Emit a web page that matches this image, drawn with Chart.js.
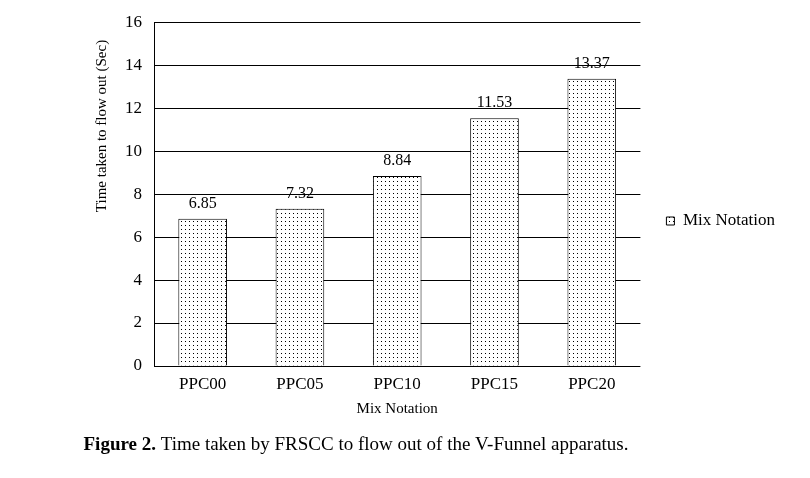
<!DOCTYPE html>
<html>
<head>
<meta charset="utf-8">
<script src="https://cdn.jsdelivr.net/npm/chart.js@4.4.0/dist/chart.umd.min.js"></script>
<style>
  html, body { margin: 0; padding: 0; background: #fff; }
  #wrap { position: relative; width: 810px; height: 478px; }
</style>
</head>
<body>
<div id="wrap"><canvas id="chart" width="810" height="478"></canvas></div>
<script>
// Data
const categories = ['PPC00', 'PPC05', 'PPC10', 'PPC15', 'PPC20'];
const flowTimes = [6.85, 7.32, 8.84, 11.53, 13.37];
const yTicks = [0, 2, 4, 6, 8, 10, 12, 14, 16];

const serif = '"Liberation Serif", "Times New Roman", serif';

// Dotted fill like the original print pattern
function makeDots() {
  const c = document.createElement('canvas');
  c.width = 4; c.height = 4;
  const g = c.getContext('2d');
  g.fillStyle = '#fff';
  g.fillRect(0, 0, 4, 4);
  g.fillStyle = '#000';
  g.fillRect(1, 1, 1, 1);
  return g.createPattern(c, 'repeat');
}
const dots = makeDots();

// Value labels above each bar
const valueLabels = {
  id: 'valueLabels',
  afterDatasetsDraw(chart) {
    const ctx = chart.ctx;
    const meta = chart.getDatasetMeta(0);
    ctx.save();
    ctx.font = '16px ' + serif;
    ctx.fillStyle = '#000';
    ctx.textAlign = 'center';
    ctx.textBaseline = 'alphabetic';
    meta.data.forEach((bar, i) => {
      ctx.fillText(flowTimes[i].toFixed(2), bar.x, bar.y - 11);
    });
    ctx.restore();
  }
};

// Y axis title (sits above the middle in the original) and figure caption
const extraText = {
  id: 'extraText',
  afterDraw(chart) {
    const ctx = chart.ctx;
    ctx.save();
    ctx.fillStyle = '#000';

    ctx.translate(102, 126);
    ctx.rotate(-Math.PI / 2);
    ctx.font = '15px ' + serif;
    ctx.textAlign = 'center';
    ctx.textBaseline = 'middle';
    ctx.fillText('Time taken to flow out (Sec)', 0, 0);
    ctx.setTransform(1, 0, 0, 1, 0, 0);

    ctx.textAlign = 'left';
    ctx.textBaseline = 'alphabetic';
    const bold = 'Figure 2.';
    const rest = ' Time taken by FRSCC to flow out of the V-Funnel apparatus.';
    ctx.font = 'bold 19px ' + serif;
    const w1 = ctx.measureText(bold).width;
    ctx.font = '19px ' + serif;
    const w2 = ctx.measureText(rest).width;
    const x0 = 356 - (w1 + w2) / 2;
    ctx.font = 'bold 19px ' + serif;
    ctx.fillText(bold, x0, 450);
    ctx.font = '19px ' + serif;
    ctx.fillText(rest, x0 + w1, 450);
    ctx.restore();
  }
};

new Chart(document.getElementById('chart'), {
  type: 'bar',
  data: {
    labels: categories,
    datasets: [{
      label: 'Mix Notation',
      data: flowTimes,
      backgroundColor: dots,
      borderColor: '#000',
      borderWidth: 1,
      categoryPercentage: 1,
      barPercentage: 0.5
    }]
  },
  options: {
    responsive: false,
    animation: false,
    layout: { padding: { left: 88, right: 25, top: 12, bottom: 48 } },
    scales: {
      x: {
        afterFit(axis) { axis.height = 64; },
        grid: { display: false, drawTicks: false },
        border: { display: false },
        ticks: { color: '#000', font: { family: serif, size: 17 }, padding: 8 },
        title: { display: true, text: 'Mix Notation', color: '#000', font: { family: serif, size: 15 }, padding: { top: 0, bottom: 12 } }
      },
      y: {
        min: 0,
        max: 16,
        afterFit(axis) { axis.width = 66; },
        afterBuildTicks(axis) { axis.ticks = yTicks.map(v => ({ value: v })); },
        grid: { color: '#000', lineWidth: 1, drawTicks: false },
        border: { display: true, color: '#000', width: 1 },
        ticks: { color: '#000', font: { family: serif, size: 17 }, padding: 12 }
      }
    },
    plugins: {
      legend: {
        position: 'right',
        labels: {
          color: '#000',
          font: { family: serif, size: 17 },
          boxWidth: 8,
          boxHeight: 8,
          padding: 26
        }
      },
      tooltip: { enabled: false }
    }
  },
  plugins: [valueLabels, extraText]
});
</script>
</body>
</html>
